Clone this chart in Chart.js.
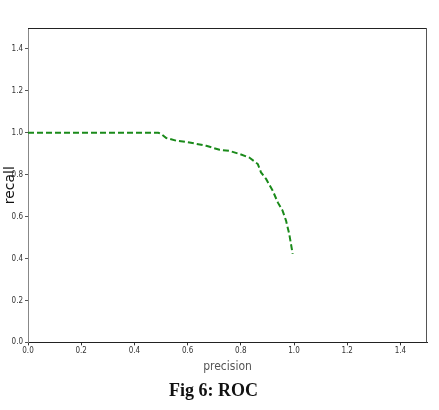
<!DOCTYPE html>
<html><head><meta charset="utf-8">
<script src="https://cdn.jsdelivr.net/npm/chart.js@4/dist/chart.umd.min.js"></script>
<style>html,body{margin:0;padding:0;background:#fff;}#wrap{width:439px;height:410px;position:relative;}</style>
</head><body><div id="wrap"><canvas id="c" width="439" height="410"></canvas></div>
<script>
const precision = [0.0, 0.20, 0.42, 0.49, 0.50, 0.52, 0.558, 0.607, 0.67, 0.72, 0.757, 0.795, 0.832, 0.864, 0.876, 0.895, 0.92, 0.939, 0.957, 0.97, 0.982, 0.995];
const recall    = [1.0, 1.0,  1.0,  1.0,  0.995, 0.975, 0.962, 0.954, 0.938, 0.919, 0.914, 0.899, 0.882, 0.851, 0.811, 0.78, 0.724, 0.668, 0.629, 0.581, 0.518, 0.422];
const tickValues = [0.0, 0.2, 0.4, 0.6, 0.8, 1.0, 1.2, 1.4];
const xTitle = 'precision';
const yTitle = 'recall';
const caption = 'Fig 6: ROC';

const frame = {
  id: 'frame',
  afterDraw(chart) {
    const {ctx, chartArea: a} = chart;
    ctx.save();
    ctx.lineWidth = 1;
    ctx.strokeStyle = '#222';
    ctx.beginPath();
    ctx.moveTo(a.left, a.top + 0.5); ctx.lineTo(a.right, a.top + 0.5);
    ctx.stroke();
    ctx.strokeStyle = '#555';
    ctx.beginPath();
    ctx.moveTo(a.right - 0.5, a.top); ctx.lineTo(a.right - 0.5, a.bottom);
    ctx.stroke();
    ctx.restore();
  }
};

const tickFont = {family: '"Liberation Sans Narrow", "DejaVu Sans Condensed", sans-serif', size: 8};
const keepTicks = s => { s.ticks = tickValues.map(v => ({value: v})); };

new Chart(document.getElementById('c'), {
  type: 'scatter',
  data: {
    datasets: [{
      data: precision.map((p, i) => ({x: p, y: recall[i]})),
      showLine: true,
      borderColor: '#1a8a1a',
      borderWidth: 2,
      borderDash: [6, 3],
      pointRadius: 0,
      fill: false,
      tension: 0
    }]
  },
  plugins: [frame],
  options: {
    responsive: false,
    animation: false,
    layout: {padding: {top: 28, right: 12, left: 0, bottom: 0}},
    plugins: {
      legend: {display: false},
      tooltip: {enabled: false},
      title: {
        display: true, position: 'bottom', text: caption,
        font: {family: '"Liberation Serif", serif', size: 18, weight: 'bold'},
        color: '#111', padding: {top: 6, bottom: 8}
      }
    },
    scales: {
      x: {
        type: 'linear', min: 0, max: 1.5,
        afterBuildTicks: keepTicks,
        afterFit: s => { s.height = 32; },
        grid: {drawOnChartArea: false, drawTicks: true, tickLength: 3, color: '#333'},
        border: {display: true, color: '#222', width: 1},
        ticks: {font: tickFont, color: '#333', padding: 1, maxRotation: 0, callback: v => v.toFixed(1)},
        title: {display: true, text: xTitle, color: '#555',
          font: {family: '"DejaVu Sans Condensed", sans-serif', size: 12}, padding: {top: 0, bottom: 0}}
      },
      y: {
        type: 'linear', min: 0, max: 1.5,
        afterBuildTicks: keepTicks,
        afterFit: s => { s.width = 28; },
        grid: {drawOnChartArea: false, drawTicks: true, tickLength: 3, color: '#555'},
        border: {display: true, color: '#888', width: 1},
        ticks: {font: tickFont, color: '#333', padding: 2, callback: v => v.toFixed(1)},
        title: {display: true, text: yTitle, color: '#111',
          font: {family: '"DejaVu Sans", sans-serif', size: 14}, padding: {top: 2, bottom: 0}}
      }
    }
  }
});
</script></body></html>
